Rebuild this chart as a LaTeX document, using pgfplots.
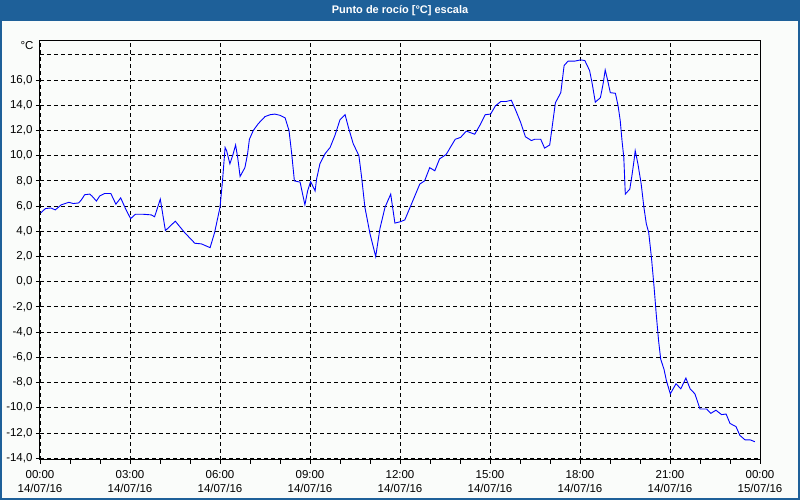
\documentclass[border=0pt]{standalone}
\usepackage{pgfplots}
\pgfplotsset{compat=1.18}
\usepackage{fontspec}
\setmainfont{Liberation Sans}
\definecolor{winblue}{RGB}{30,96,153}
\definecolor{bgc}{RGB}{250,252,250}
\definecolor{lineblue}{RGB}{0,0,255}
\pgfplotstableread{
h v
0.02 5.45
0.18 5.8
0.36 5.85
0.51 5.7
0.71 6.1
0.96 6.3
1.11 6.2
1.29 6.25
1.38 6.5
1.49 6.9
1.66 6.95
1.73 6.8
1.88 6.4
1.99 6.8
2.16 7.0
2.36 7.0
2.53 6.15
2.69 6.65
2.84 5.85
3.02 5.0
3.18 5.35
3.44 5.35
3.71 5.3
3.82 5.15
4.01 6.55
4.18 4.05
4.51 4.8
4.82 3.9
5.16 3.05
5.38 3.0
5.67 2.7
5.82 3.9
6.0 5.9
6.08 7.9
6.17 10.65
6.22 10.4
6.33 9.35
6.44 10.15
6.52 10.85
6.59 9.85
6.67 8.35
6.83 9.05
6.92 10.15
6.98 11.3
7.11 12.0
7.28 12.55
7.5 13.1
7.67 13.25
7.83 13.3
8.0 13.2
8.17 13.0
8.3 12.0
8.39 10.15
8.48 8.0
8.67 7.9
8.74 7.1
8.83 6.1
8.92 7.2
9.02 7.95
9.17 7.2
9.22 8.15
9.33 9.35
9.5 10.15
9.67 10.65
9.83 11.6
10.0 12.85
10.17 13.25
10.28 12.25
10.44 10.95
10.63 10.0
10.72 8.3
10.83 5.9
11.0 3.8
11.19 2.0
11.33 4.2
11.5 5.9
11.69 6.95
11.83 4.65
12.0 4.75
12.16 4.9
12.38 6.15
12.66 7.75
12.82 8.0
12.99 9.05
13.16 8.8
13.32 9.75
13.54 10.1
13.84 11.3
14.02 11.45
14.21 11.95
14.49 11.7
14.66 12.4
14.84 13.25
15.02 13.3
15.18 13.95
15.36 14.3
15.54 14.3
15.71 14.4
15.84 13.7
16.02 12.65
16.18 11.5
16.38 11.2
16.49 11.3
16.69 11.3
16.82 10.6
16.99 10.85
17.07 12.25
17.18 14.2
17.36 15.0
17.47 17.15
17.6 17.5
17.82 17.5
18.02 17.6
18.16 17.55
18.32 16.75
18.4 15.8
18.51 14.25
18.68 14.6
18.77 15.7
18.84 16.8
18.91 16.1
19.01 15.0
19.18 14.95
19.27 13.95
19.34 12.8
19.4 11.2
19.46 9.85
19.51 6.95
19.66 7.35
19.73 8.4
19.8 9.6
19.84 10.4
19.93 9.35
20.04 7.75
20.13 5.9
20.21 4.6
20.29 3.9
20.38 1.95
20.47 -0.45
20.54 -2.55
20.62 -4.7
20.69 -6.15
20.8 -6.95
20.88 -7.85
21.01 -8.9
21.2 -8.1
21.36 -8.5
21.53 -7.65
21.67 -8.5
21.83 -8.9
22.0 -10.1
22.22 -10.1
22.36 -10.45
22.53 -10.2
22.72 -10.55
22.87 -10.5
23.0 -11.25
23.2 -11.5
23.33 -12.2
23.5 -12.55
23.67 -12.55
23.83 -12.7
}\dewpoint
\begin{document}
\begin{tikzpicture}
\useasboundingbox (0,0) rectangle (800pt,500pt);
\fill[bgc] (0,0) rectangle (800pt,500pt);
\fill[winblue] (0,479pt) rectangle (800pt,500pt);
\draw[winblue, line width=2pt] (1pt,1pt) rectangle (799pt,499pt);
\node[text=white, font=\bfseries\fontsize{11}{12}\selectfont] at (400pt,489.5pt) {Punto de rocío [°C] escala};
\begin{axis}[
  at={(40pt,40pt)}, anchor=south west,
  scale only axis, width=720pt, height=419pt,
  xmin=0, xmax=24, ymin=-14.15, ymax=19.1,
  xtick={0,3,...,24},
  xticklabels={{00:00\\14/07/16},{03:00\\14/07/16},{06:00\\14/07/16},{09:00\\14/07/16},{12:00\\14/07/16},{15:00\\14/07/16},{18:00\\14/07/16},{21:00\\14/07/16},{00:00\\15/07/16}},
  minor xtick={1,2,4,5,7,8,10,11,13,14,16,17,19,20,22,23},
  ytick={-14,-12,...,16},
  yticklabels={{-14,0},{-12,0},{-10,0},{-8,0},{-6,0},{-4,0},{-2,0},{0,0},{2,0},{4,0},{6,0},{8,0},{10,0},{12,0},{14,0},{16,0}},
  extra y ticks={18}, extra y tick labels={},
  extra y tick style={major tick length=0pt},
  xmajorgrids, ymajorgrids,
  major grid style={black, line width=0.8pt, dash pattern=on 4pt off 3pt},
  tick align=outside, xtick pos=bottom, ytick pos=left,
  major tick length=4pt, minor tick length=4pt,
  tick style={black, line width=0.8pt},
  axis line style={black, line width=1pt},
  tick label style={font=\fontsize{11.5}{14}\selectfont, black},
  xticklabel style={align=center, yshift=-3pt},
  /pgf/number format/assume math mode=true,
]
\addplot[lineblue, line width=0.9pt, mark=none] table[x=h, y=v] {\dewpoint};
\end{axis}
\node[anchor=east, font=\fontsize{11.5}{12}\selectfont] at (37pt,454pt) {°C};
\end{tikzpicture}
\end{document}
